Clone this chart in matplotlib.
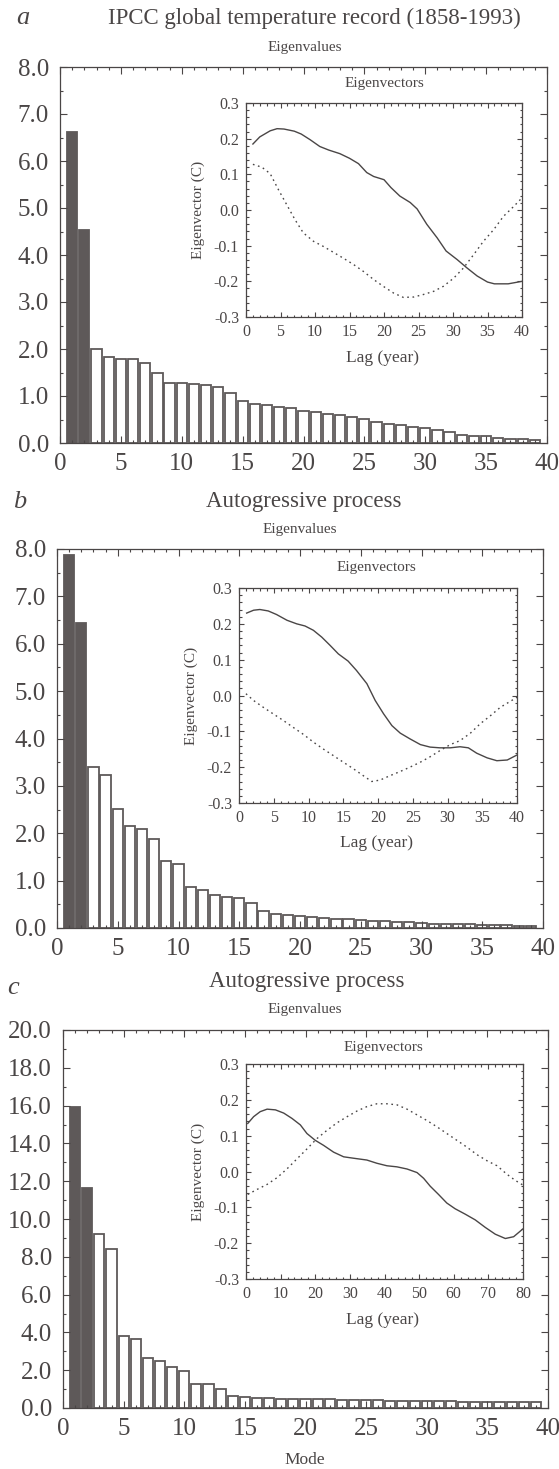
import matplotlib
matplotlib.use("Agg")
import matplotlib.pyplot as plt
from matplotlib.ticker import MultipleLocator, FuncFormatter
import numpy as np

plt.rcParams['font.family'] = ['Liberation Serif', 'DejaVu Serif']

W, H = 559, 1469
INK = '#4a4646'
BAR_DARK = '#5e5959'

# ---- eigenvalues (modes 1..39) ----
modes = np.arange(1, 40)
eig_a = [6.62, 4.53, 1.99, 1.82, 1.79, 1.78, 1.70, 1.50, 1.28, 1.27,
         1.25, 1.23, 1.20, 1.07, 0.89, 0.84, 0.80, 0.77, 0.74, 0.69,
         0.67, 0.62, 0.59, 0.56, 0.52, 0.45, 0.41, 0.38, 0.35, 0.32,
         0.28, 0.23, 0.18, 0.15, 0.14, 0.11, 0.09, 0.09, 0.07]
eig_b = [7.88, 6.43, 3.40, 3.22, 2.51, 2.16, 2.09, 1.87, 1.41, 1.36,
         0.86, 0.80, 0.69, 0.66, 0.64, 0.53, 0.35, 0.30, 0.28, 0.25,
         0.23, 0.21, 0.19, 0.18, 0.16, 0.15, 0.15, 0.13, 0.12, 0.10,
         0.09, 0.09, 0.08, 0.08, 0.07, 0.06, 0.06, 0.05, 0.04]
eig_c = [15.94, 11.62, 9.21, 8.43, 3.79, 3.67, 2.67, 2.50, 2.19, 1.94,
         1.29, 1.25, 0.99, 0.65, 0.59, 0.55, 0.52, 0.50, 0.49, 0.47,
         0.46, 0.45, 0.43, 0.42, 0.41, 0.40, 0.39, 0.38, 0.37, 0.36,
         0.35, 0.35, 0.34, 0.33, 0.33, 0.32, 0.31, 0.31, 0.30]

# ---- eigenvectors ----
lag_a1 = [1, 2, 3.5, 4.5, 5.5, 7, 8, 9.3, 10.7, 12, 13.6, 15, 16.3, 17.5, 18.5,
          20, 21, 22.3, 23.8, 24.8, 26.2, 27.7, 29, 30.6, 32, 33.5, 35, 36, 38, 40]
vec_a1 = [0.185, 0.205, 0.222, 0.228, 0.227, 0.221, 0.213, 0.197, 0.178, 0.168,
          0.158, 0.145, 0.130, 0.105, 0.094, 0.085, 0.063, 0.039, 0.021, 0.003,
          -0.040, -0.078, -0.115, -0.139, -0.162, -0.185, -0.202, -0.207, -0.207, -0.200]
lag_a2 = [1, 2.3, 3.5, 4.7, 5.9, 7.1, 8.3, 9.8, 11.2, 12.7, 14.1, 15.6, 17, 18.5,
          19.9, 21.4, 22.8, 24.3, 25.7, 27.2, 28.6, 30.1, 31.5, 33, 34.4, 35.9,
          37.3, 38.8, 40]
vec_a2 = [0.128, 0.120, 0.102, 0.057, 0.015, -0.027, -0.064, -0.088, -0.102,
          -0.119, -0.135, -0.153, -0.172, -0.195, -0.214, -0.233, -0.245, -0.244,
          -0.237, -0.228, -0.214, -0.191, -0.163, -0.125, -0.088, -0.055, -0.018,
          0.010, 0.034]

lag_b1 = [1.1, 2.1, 3, 4.2, 5.4, 6.9, 8.3, 9.5, 10.7, 11.9, 13.1, 14.3, 15.7,
          16.9, 18.4, 19.6, 20.8, 22, 23.2, 24.6, 26.1, 27.5, 28.9, 30.4, 31.8,
          33, 34.2, 35.7, 37.1, 38.6, 40]
vec_b1 = [0.230, 0.238, 0.240, 0.236, 0.226, 0.210, 0.200, 0.194, 0.182, 0.163,
          0.140, 0.116, 0.096, 0.070, 0.033, -0.014, -0.051, -0.084, -0.105,
          -0.121, -0.137, -0.144, -0.146, -0.146, -0.143, -0.146, -0.161, -0.174,
          -0.182, -0.180, -0.166]
lag_b2 = [1, 2.1, 3.5, 4.9, 6.4, 7.8, 9.3, 10.7, 12.1, 13.6, 15, 16.5, 17.9,
          19.1, 20.3, 21.7, 23.2, 24.6, 26.1, 27.5, 28.9, 30.4, 31.8, 33.3, 34.7,
          36.2, 37.6, 38.8, 40]
vec_b2 = [0.005, -0.014, -0.033, -0.051, -0.070, -0.089, -0.109, -0.130, -0.149,
          -0.168, -0.186, -0.205, -0.224, -0.240, -0.236, -0.224, -0.212, -0.200,
          -0.186, -0.171, -0.154, -0.137, -0.126, -0.105, -0.079, -0.056, -0.033,
          -0.019, -0.005]

lag_c1 = [0.5, 2.2, 4.1, 6.1, 8.5, 10.9, 13.3, 15.7, 17.6, 20, 22.4, 25.3, 28.2,
          31.1, 34.9, 37.8, 40.7, 43.6, 46.5, 49.4, 51.3, 53.2, 55.6, 58, 60.4,
          63.3, 66.2, 69.1, 72, 74.9, 77.3, 80]
vec_c1 = [0.134, 0.153, 0.167, 0.174, 0.172, 0.163, 0.148, 0.130, 0.106, 0.087,
          0.073, 0.054, 0.041, 0.037, 0.032, 0.023, 0.016, 0.013, 0.007, -0.003,
          -0.019, -0.041, -0.064, -0.088, -0.104, -0.119, -0.135, -0.156, -0.175,
          -0.187, -0.182, -0.160]
lag_c2 = [0.5, 3.2, 6.1, 9, 11.8, 14.7, 17.6, 20.5, 23.4, 26.3, 29.2, 32.1, 34.9,
          37.8, 40.7, 43.6, 46.5, 49.4, 52.3, 55.1, 58, 60.9, 63.8, 66.7, 69.6,
          72.5, 75.4, 77.8, 80]
vec_c2 = [-0.064, -0.050, -0.036, -0.017, 0.007, 0.035, 0.063, 0.092, 0.115,
          0.136, 0.153, 0.169, 0.181, 0.189, 0.189, 0.186, 0.174, 0.158, 0.142,
          0.125, 0.106, 0.087, 0.068, 0.047, 0.030, 0.016, -0.008, -0.025, -0.038]


def rect(l, t, r, b):
    return [l / W, 1 - b / H, (r - l) / W, (b - t) / H]


def ftext(x, y, s, **kw):
    fig.text(x / W, 1 - y / H, s, color=INK, ha=kw.pop('ha', 'center'),
             va=kw.pop('va', 'center'), **kw)


def style_axes(ax, size, majlen, minlen):
    for sp in ax.spines.values():
        sp.set_color(INK)
        sp.set_linewidth(0.9)
    ax.tick_params(which='both', direction='in', top=True, right=True,
                   colors=INK, labelcolor=INK, width=0.8, labelsize=size)
    ax.tick_params(which='major', length=majlen)
    ax.tick_params(which='minor', length=minlen)


fig = plt.figure(figsize=(W / 100, H / 100), dpi=100)
fig.patch.set_facecolor('white')


def panel(box, inset_box, vals, ymax, ystep, yminor, l1, v1, l2, v2, lagmax):
    ax = fig.add_axes(rect(*box))
    colors = [BAR_DARK if i < 2 else 'white' for i in range(len(vals))]
    ax.bar(modes, vals, width=0.84, color=colors, edgecolor=BAR_DARK,
           linewidth=1.3)
    ax.set_xlim(0, 40)
    ax.set_ylim(0, ymax)
    ax.xaxis.set_major_locator(MultipleLocator(5))
    ax.xaxis.set_minor_locator(MultipleLocator(1))
    ax.yaxis.set_major_locator(MultipleLocator(ystep))
    ax.yaxis.set_minor_locator(MultipleLocator(yminor))
    ax.yaxis.set_major_formatter(FuncFormatter(lambda v, p: '%.1f' % v))
    style_axes(ax, 18, 5, 2.5)
    ax.tick_params(axis='x', pad=7)
    ax.tick_params(axis='y', pad=8)

    ins = fig.add_axes(rect(*inset_box))
    ins.plot(l1, v1, color=INK, lw=1.0)
    ins.plot(l2, v2, color=INK, lw=1.0, linestyle=(0, (1.2, 2.6)))
    ins.set_xlim(0, lagmax)
    ins.set_ylim(-0.3, 0.3)
    ins.xaxis.set_major_locator(MultipleLocator(lagmax / 8))
    ins.xaxis.set_minor_locator(MultipleLocator(lagmax / 40))
    ins.yaxis.set_major_locator(MultipleLocator(0.1))
    ins.yaxis.set_minor_locator(MultipleLocator(0.02))
    ins.yaxis.set_major_formatter(
        FuncFormatter(lambda v, p: ('%.1f' % v).replace('-0.0', '0.0')))
    style_axes(ins, 11.5, 3.5, 1.8)
    ins.tick_params(axis='y', pad=5)
    ins.tick_params(axis='x', pad=5)
    ins.set_ylabel('Eigenvector (C)', fontsize=11, color=INK, labelpad=6)
    return ax, ins


# panel a
panel((60, 67, 547, 443), (246, 103, 522, 317), eig_a, 8, 1, 0.5,
      lag_a1, vec_a1, lag_a2, vec_a2, 40)
ftext(23, 18, 'a', fontsize=19, style='italic')
ftext(314, 18, 'IPCC global temperature record (1858-1993)', fontsize=16.5)
ftext(305, 47, 'Eigenvalues', fontsize=11)
ftext(384, 83, 'Eigenvectors', fontsize=11)
ftext(382, 358, 'Lag (year)', fontsize=12.5)

# panel b
panel((57, 549, 543, 928), (239, 588, 517, 803), eig_b, 8, 1, 0.5,
      lag_b1, vec_b1, lag_b2, vec_b2, 40)
ftext(20, 502, 'b', fontsize=19, style='italic')
ftext(304, 502, 'Autogressive process', fontsize=16.5)
ftext(300, 530, 'Eigenvalues', fontsize=11)
ftext(376, 568, 'Eigenvectors', fontsize=11)
ftext(376, 843, 'Lag (year)', fontsize=12.5)

# panel c
panel((63, 1030, 548, 1408), (246, 1064, 523, 1279), eig_c, 20, 2, 1,
      lag_c1, vec_c1, lag_c2, vec_c2, 80)
ftext(13, 988, 'c', fontsize=19, style='italic')
ftext(307, 982, 'Autogressive process', fontsize=16.5)
ftext(305, 1010, 'Eigenvalues', fontsize=11)
ftext(383, 1047, 'Eigenvectors', fontsize=11)
ftext(383, 1320, 'Lag (year)', fontsize=12.5)
ftext(305, 1460, 'Mode', fontsize=12.5)

fig.savefig('out.png', dpi=100, facecolor='white')
